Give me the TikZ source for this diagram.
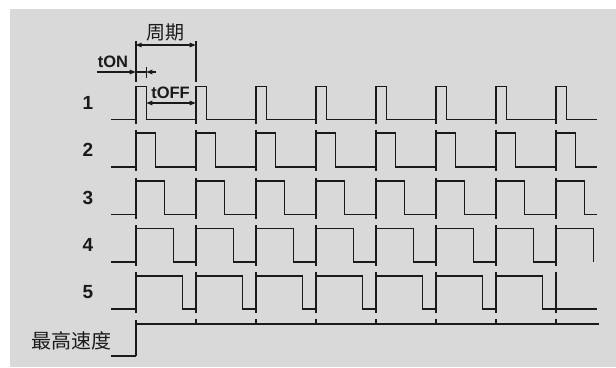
\documentclass[tikz,border=0pt]{standalone}
\usepackage{fontspec}
\setmainfont{Liberation Sans}
\newfontfamily\cjk{Noto Sans CJK SC}
\usetikzlibrary{arrows.meta}
\definecolor{bggray}{HTML}{D9D9D9}
\definecolor{ink}{HTML}{1A1A1A}
\begin{document}
\begin{tikzpicture}[x=1pt,y=-1pt,
  sig/.style={line width=1.5pt, draw=ink, line join=miter},
  tickline/.style={line width=1.9pt, draw=ink},
  dimline/.style={line width=1.1pt, draw=ink},
  dimarrow/.style={line width=1.1pt, draw=ink, -{Triangle[length=6pt,width=4.5pt]}},
  dimboth/.style={line width=1.1pt, draw=ink, {Triangle[length=6pt,width=4.5pt]}-{Triangle[length=6pt,width=4.5pt]}},
  rowlabel/.style={font=\bfseries\fontsize{19}{21}\selectfont, text=ink, inner sep=0pt},
  annot/.style={font=\bfseries\fontsize{16.5}{18}\selectfont, text=ink, inner sep=0pt},
  cjklabel/.style={font=\cjk\fontsize{20}{22}\selectfont, text=ink, inner sep=0pt}]
\useasboundingbox (0,0) rectangle (616,367);
\fill[bggray] (10,9) rectangle (616,367);

% waveforms rows 1..5
\foreach \k/\hy/\ly/\w/\n/\xe/\up in {1/86.5/119.5/10.7/7/597/0,
                                       2/133/167/19.7/7/597/3,
                                       3/181/214.5/28.7/7/597/3.5,
                                       4/228.7/262/37.7/7/593.4/3.5,
                                       5/276/309/46.7/6/597/4}{
  \draw[sig] (111,\ly) \foreach \i in {0,...,\n}{
      -- ({135.7+60*\i},\ly) -- ({135.7+60*\i},\hy)
      -- ({135.7+60*\i+\w},\hy) -- ({135.7+60*\i+\w},\ly)} -- (\xe,\ly);
  \foreach \i in {0,...,7}
    \draw[tickline] ({135.7+60*\i},{\hy-\up}) -- ({135.7+60*\i},{\ly+4});
  \node[rowlabel] (lab\k) at (88,{(\hy+\ly)/2}) {\k};
}

% max speed row
\draw[sig] (111,356) -- (135.7,356) -- (135.7,324) -- (599,324);
\draw[tickline] (135.7,320) -- (135.7,356);
\foreach \i in {1,...,7}
  \draw[tickline] ({135.7+60*\i},318.5) -- ({135.7+60*\i},324);
\node[cjklabel] (maxspeed) at (71.5,340.5) {最高速度};

% period annotation
\coordinate (pA) at (135.7,41);
\coordinate (pAb) at (135.7,82);
\coordinate (pB) at (195.7,41);
\coordinate (pBb) at (195.7,82);
\draw[tickline] (pA) -- (pAb);
\draw[tickline] (pB) -- (pBb);
\coordinate (perL) at (135.7,45);
\coordinate (perR) at (195.7,45);
\draw[dimboth] (perL) -- (perR);
\node[cjklabel, font=\cjk\fontsize{19}{21}\selectfont] (period) at (165,32.5) {周期};

% tON annotation
\node[annot] (ton) at (113,62) {tON};
\coordinate (tonS) at (97,72);
\coordinate (tonE) at (135.7,72);
\coordinate (tonF) at (146.4,72);
\coordinate (tonR) at (156,72);
\coordinate (tonT1) at (146.4,67);
\coordinate (tonT2) at (146.4,77.5);
\draw[dimarrow] (tonS) -- (tonE);
\draw[dimline] (tonE) -- (tonF);
\draw[dimline] (tonT1) -- (tonT2);
\draw[dimarrow] (tonR) -- (tonF);

% tOFF annotation
\node[annot] (toff) at (170.5,92.5) {tOFF};
\coordinate (toffL) at (146.4,103);
\coordinate (toffR) at (195.7,103);
\draw[dimboth] (toffL) -- (toffR);
\end{tikzpicture}
\end{document}
